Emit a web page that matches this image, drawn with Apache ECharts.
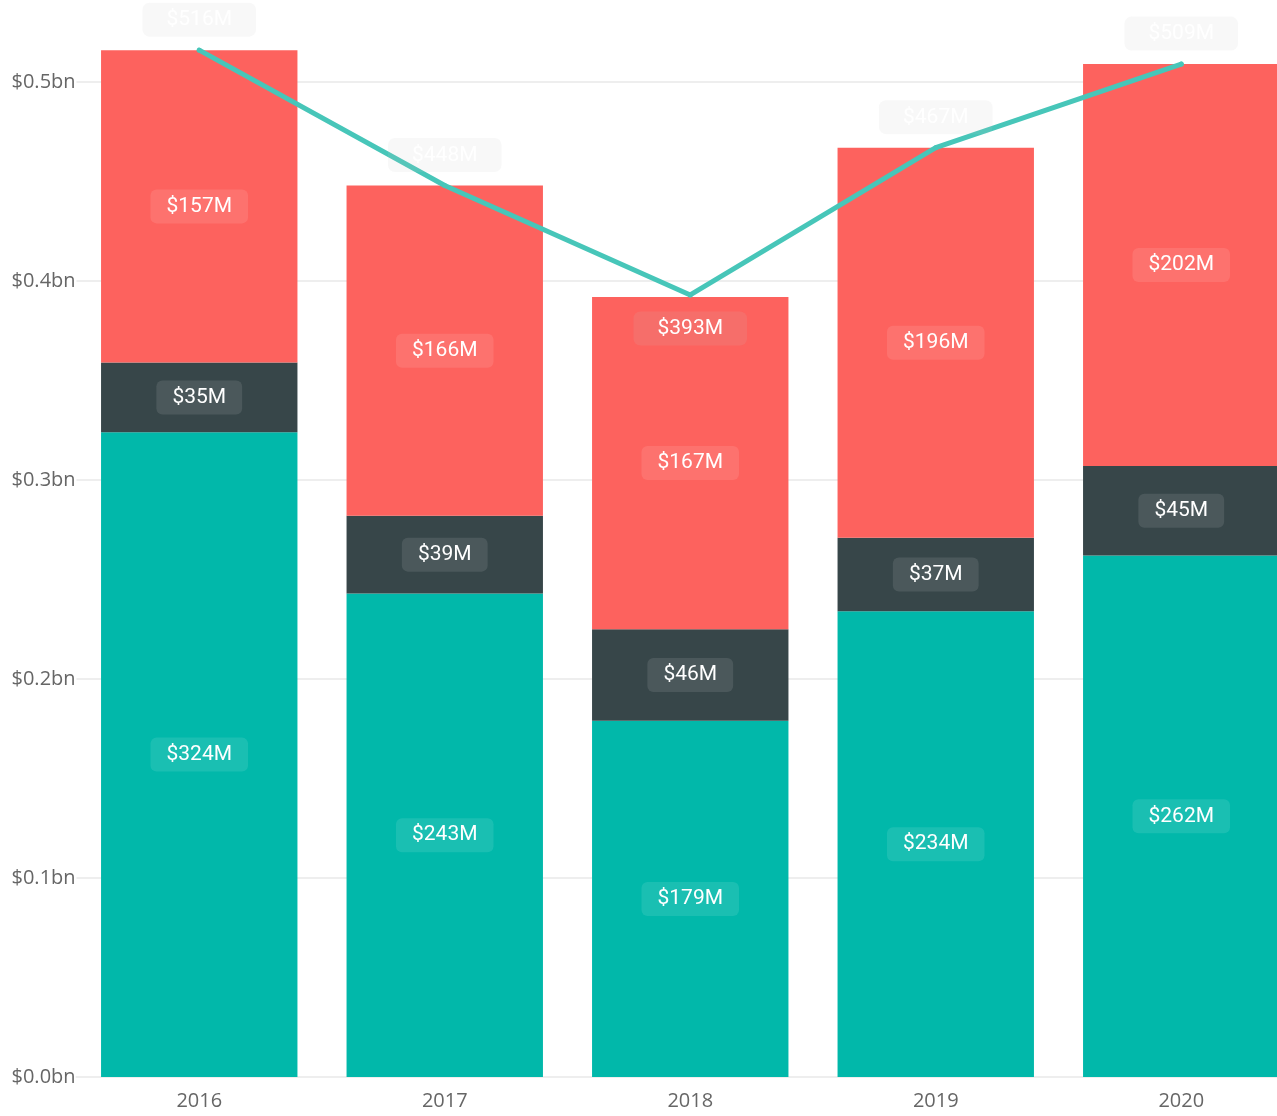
<!DOCTYPE html>
<html>
<head>
<meta charset="utf-8">
<script src="https://cdn.jsdelivr.net/npm/echarts@6/dist/echarts.min.js"></script>
<style>
  html, body { margin: 0; padding: 0; background: #fff; }
  #main { width: 1277px; height: 1116px; }
</style>
</head>
<body>
<div id="main"></div>
<script>
// values in $M
const years = ["2016", "2017", "2018", "2019", "2020"];
const tealValues = [324, 243, 179, 234, 262];
const darkValues = [35, 39, 46, 37, 45];
const redValues = [157, 166, 167, 196, 202];
const totalValues = [516, 448, 393, 467, 509];

const chart = echarts.init(document.getElementById("main"));

// label style shared by the stacked segments
const segLabel = {
  show: true,
  position: "inside",
  color: "#fff",
  fontFamily: "Roboto",
  fontSize: 21,
  backgroundColor: "rgba(255,255,255,0.1)",
  borderRadius: 6,
  padding: [7, 16, 6, 16],
  formatter: p => "$" + p.value + "M",
};

function barSeries(name, data, color) {
  return {
    name: name,
    type: "bar",
    stack: "total",
    data: data,
    barCategoryGap: "20%",
    itemStyle: { color: color },
    label: segLabel,
    z: 2,
  };
}

const option = {
  animation: false,
  grid: {
    left: 76.5, right: -27, top: -117, bottom: 39,
    containLabel: false,
    outerBoundsMode: "none",
  },
  xAxis: {
    type: "category",
    data: years,
    axisTick: { show: false },
    axisLine: { show: true, lineStyle: { color: "#eee", width: 2 } },
    axisLabel: { color: "#666", fontFamily: "Open Sans", fontSize: 20, margin: 14 },
  },
  yAxis: {
    type: "value",
    min: 0,
    max: 600,
    interval: 100,
    axisLabel: {
      color: "#666",
      fontFamily: "Open Sans",
      fontSize: 20,
      margin: 65,
      align: "left",
      formatter: v => "$" + (v / 1000).toFixed(1) + "bn",
    },
    axisLine: { show: false },
    axisTick: { show: false },
    splitLine: { lineStyle: { color: "#eee", width: 2 } },
  },
  series: [
    barSeries("teal", tealValues, "#01b8aa"),
    barSeries("dark", darkValues, "#374649"),
    barSeries("red", redValues, "#fd625e"),
    {
      name: "total",
      type: "line",
      data: totalValues.map((v, i) => ({
        value: v,
        label: i === 2 ? { position: "bottom", distance: 14 } : {},
      })),
      symbol: "circle",
      symbolSize: 5,
      showSymbol: true,
      clip: false,
      z: 5,
      itemStyle: { color: "#47c6b9" },
      lineStyle: { color: "#47c6b9", width: 5, cap: "round", join: "round" },
      label: {
        show: true,
        position: "top",
        distance: 11,
        color: "#fff",
        fontFamily: "Roboto",
        fontSize: 21,
        backgroundColor: "rgba(200,200,200,0.12)",
        borderRadius: 7,
        padding: [7, 24, 6, 24],
        formatter: p => "$" + p.value + "M",
      },
    },
  ],
};

chart.setOption(option);
</script>
</body>
</html>
